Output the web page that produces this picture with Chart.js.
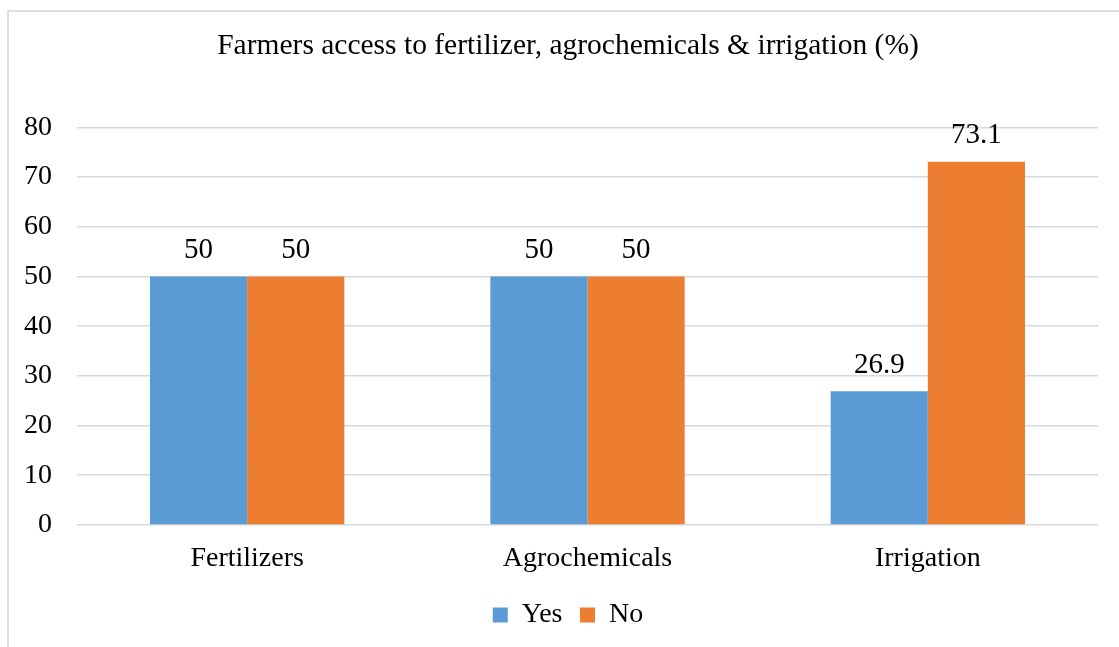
<!DOCTYPE html>
<html>
<head>
<meta charset="utf-8">
<script src="https://cdn.jsdelivr.net/npm/chart.js@4/dist/chart.umd.min.js"></script>
<style>
  html, body { margin: 0; padding: 0; background: #fff; }
  #wrap { position: relative; width: 1119px; height: 647px; overflow: hidden; }
  #frame {
    position: absolute; left: 7px; top: 10px; right: -10px; bottom: -10px;
    border-left: 2px solid #dedede; border-top: 2px solid #dedede;
  }
  #chart { position: absolute; left: 0; top: 0; }
</style>
</head>
<body>
<div id="wrap">
  <div id="frame"></div>
  <canvas id="chart" width="1119" height="647"></canvas>
</div>
<script>
// Access shares by input type, in percent
const categories = ['Fertilizers', 'Agrochemicals', 'Irrigation'];
const yesValues = [50, 50, 26.9];
const noValues = [50, 50, 73.1];
const seriesNames = ['Yes', 'No'];

const FONT = '"Liberation Serif", "Times New Roman", serif';
const TEXT = '#000';

// Prints each bar's value just above it
const valueLabels = {
  id: 'valueLabels',
  afterDatasetsDraw(chart) {
    const ctx = chart.ctx;
    ctx.save();
    ctx.font = '29px ' + FONT;
    ctx.fillStyle = TEXT;
    ctx.textAlign = 'center';
    ctx.textBaseline = 'alphabetic';
    chart.data.datasets.forEach((ds, i) => {
      chart.getDatasetMeta(i).data.forEach((bar, j) => {
        ctx.fillText(String(ds.data[j]), bar.x, bar.y - 18.5);
      });
    });
    ctx.restore();
  },
};

// Centre title and legend on the framed area rather than the canvas
const centreBlocks = {
  id: 'centreBlocks',
  afterLayout(chart) {
    const dx = 19;
    [chart.titleBlock, chart.legend].forEach((box) => {
      if (box) { box.left += dx; box.right += dx; }
    });
  },
};

new Chart(document.getElementById('chart'), {
  type: 'bar',
  data: {
    labels: categories,
    datasets: [
      { label: seriesNames[0], data: yesValues, backgroundColor: '#5B9BD5' },
      { label: seriesNames[1], data: noValues, backgroundColor: '#ED7D31' },
    ],
  },
  options: {
    responsive: false,
    animation: false,
    layout: { padding: { left: 0, right: 21, top: 0, bottom: 8 } },
    datasets: { bar: { barPercentage: 1, categoryPercentage: 0.571 } },
    plugins: {
      title: {
        display: true,
        text: 'Farmers access to fertilizer, agrochemicals & irrigation (%)',
        color: TEXT,
        font: { family: FONT, size: 29.5, weight: 'normal' },
        padding: { top: 29, bottom: 63 },
      },
      legend: {
        position: 'bottom',
        labels: {
          color: TEXT,
          font: { family: FONT, size: 28 },
          boxWidth: 15,
          boxHeight: 15,
          padding: 17.5,
        },
      },
      tooltip: { enabled: false },
    },
    scales: {
      x: {
        grid: { display: false },
        border: { display: false },
        ticks: { color: TEXT, font: { family: FONT, size: 28 }, padding: 8.5 },
      },
      y: {
        min: 0,
        max: 80,
        ticks: { stepSize: 10, color: TEXT, font: { family: FONT, size: 28 }, padding: 25 },
        grid: { color: '#d9d9d9', lineWidth: 1.5, drawTicks: false },
        border: { display: false },
        afterFit(scale) { scale.width = 77; },
      },
    },
  },
  plugins: [valueLabels, centreBlocks],
});
</script>
</body>
</html>
